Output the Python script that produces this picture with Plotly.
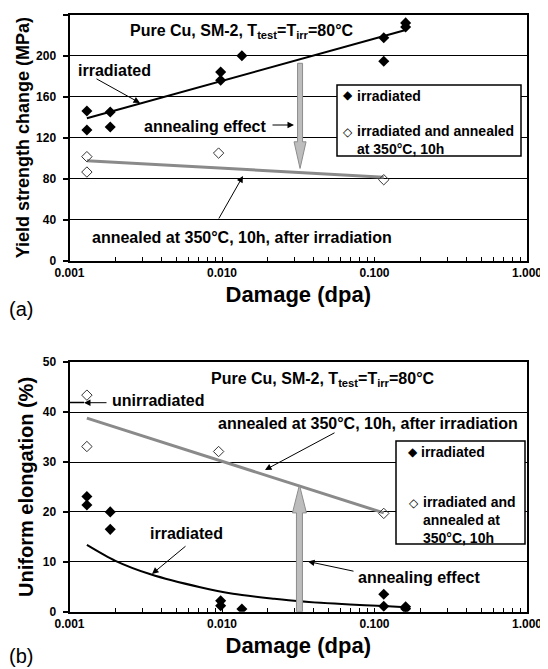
import plotly.graph_objects as go

# ---------------- data ----------------
# Panel (a): yield strength change (MPa)
irr_x_a = [0.0013, 0.0013, 0.00185, 0.00185, 0.0098, 0.0098, 0.0135, 0.115, 0.115, 0.16, 0.16]
irr_y_a = [146, 127.5, 145, 130.5, 184, 176, 200, 217.5, 194.5, 232, 228]
ann_x_a = [0.0013, 0.0013, 0.0095, 0.115]
ann_y_a = [101.5, 86.5, 105, 79]
irr_fit_x_a = [0.0013, 0.16]
irr_fit_y_a = [139, 225]
ann_fit_x_a = [0.0013, 0.115]
ann_fit_y_a = [97.5, 81.5]

# Panel (b): uniform elongation (%)
irr_x_b = [0.0013, 0.0013, 0.00185, 0.00185, 0.0098, 0.0098, 0.0135, 0.115, 0.115, 0.16, 0.16]
irr_y_b = [23.1, 21.4, 20.0, 16.5, 2.2, 1.2, 0.55, 3.5, 1.1, 1.0, 0.6]
ann_x_b = [0.0013, 0.0013, 0.0095, 0.115]
ann_y_b = [43.4, 33.1, 32.1, 19.7]
ann_fit_x_b = [0.0013, 0.115]
ann_fit_y_b = [38.8, 19.8]
irr_fit_x_b = [0.0013, 0.002, 0.0034, 0.0072, 0.0118, 0.022, 0.032, 0.069, 0.115, 0.16]
irr_fit_y_b = [13.4, 10.2, 7.5, 4.9, 3.6, 2.6, 2.1, 1.45, 1.15, 0.9]
unirr_x_b = [0.00112]
unirr_y_b = [41.9]

# annealing-effect arrows (x position, from value, to value)
arrow_a = (0.0325, 192.6, 90.0)
arrow_b = (0.0322, 0.0, 25.4)

x_tickvals = [0.001, 0.01, 0.1, 1.0]
x_ticktext = ["0.001", "0.010", "0.100", "1.000"]
x_minor = [m * d for d in (0.001, 0.01, 0.1) for m in range(2, 10)]

FONT = "Liberation Sans, Arial, sans-serif"
OFF = 8                      # page body margin of the browser
W, H = 548 - OFF, 669 - OFF  # figure size so the page is filled exactly


def PX(x):
    """reference page pixel -> paper fraction"""
    return (x - OFF) / W


def PY(y):
    return 1 - (y - OFF) / H


fig = go.Figure()

# ---------------- traces ----------------
def add(x, y, xa, ya, **kw):
    fig.add_trace(go.Scatter(x=x, y=y, xaxis=xa, yaxis=ya, showlegend=False,
                             hoverinfo="skip", **kw))

# panel a
add(ann_fit_x_a, ann_fit_y_a, "x", "y", mode="lines", line=dict(color="#8a8a8a", width=3))
add(irr_fit_x_a, irr_fit_y_a, "x", "y", mode="lines", line=dict(color="black", width=2))
add(irr_x_a, irr_y_a, "x", "y", mode="markers",
    marker=dict(symbol="diamond", size=8.5, color="black", line=dict(width=0)))
add(ann_x_a, ann_y_a, "x", "y", mode="markers",
    marker=dict(symbol="diamond-open", size=8, color="#333333", line=dict(width=1)))

# panel b
add(ann_fit_x_b, ann_fit_y_b, "x2", "y2", mode="lines", line=dict(color="#8a8a8a", width=3))
add(irr_fit_x_b, irr_fit_y_b, "x2", "y2", mode="lines",
    line=dict(color="black", width=2, shape="spline", smoothing=0.8))
add(irr_x_b, irr_y_b, "x2", "y2", mode="markers",
    marker=dict(symbol="diamond", size=8.5, color="black", line=dict(width=0)))
add(ann_x_b, ann_y_b, "x2", "y2", mode="markers",
    marker=dict(symbol="diamond-open", size=8, color="#333333", line=dict(width=1)))
add(unirr_x_b, unirr_y_b, "x2", "y2", mode="markers",
    marker=dict(symbol="line-ew", size=10, color="black", line=dict(width=1.5, color="black")))

# ---------------- axes ----------------
xdom = [PX(69.5), PX(527.0)]
ydom_a = [PY(260.7), PY(14.7)]
ydom_b = [PY(611.7), PY(362.2)]

tickfont = dict(family=FONT, size=12, color="black", weight="bold")


def xaxis(anchor, standoff):
    return dict(type="log", range=[-3, 0], domain=xdom, anchor=anchor, automargin=False,
                showline=True, mirror=True, linecolor="black", linewidth=2,
                ticks="inside", ticklen=4, tickcolor="black", tickwidth=1,
                tickmode="array", tickvals=x_tickvals, ticktext=x_ticktext,
                tickfont=tickfont, showgrid=False, zeroline=False,
                minor=dict(ticks="inside", ticklen=4, tickcolor="black", tickwidth=1,
                           tickmode="array", tickvals=x_minor, showgrid=False),
                title=dict(text="Damage (dpa)", standoff=standoff,
                           font=dict(family=FONT, size=22, color="black", weight="bold")))


def yaxis(anchor, dom, rng, dtick, title, tsize, standoff):
    return dict(range=rng, domain=dom, anchor=anchor, dtick=dtick, tick0=0, automargin=False,
                showline=True, mirror=True, linecolor="black", linewidth=2,
                ticks="outside", ticklen=5, tickcolor="black", tickwidth=1.5,
                tickfont=tickfont, ticklabelstandoff=4,
                showgrid=True, gridcolor="black", gridwidth=1.3, zeroline=False,
                title=dict(text=title, standoff=standoff,
                           font=dict(family=FONT, size=tsize, color="black", weight="bold")))


fig.update_layout(
    width=W, height=H, margin=dict(l=0, r=0, t=0, b=0, autoexpand=False),
    paper_bgcolor="white", plot_bgcolor="white",
    font=dict(family=FONT, color="black"),
    xaxis=xaxis("y", 8),
    yaxis=yaxis("x", ydom_a, [0, 240], 40, "Yield strength change (MPa)", 18, 2),
    xaxis2=xaxis("y2", 8),
    yaxis2=yaxis("x2", ydom_b, [0, 50], 10, "Uniform elongation (%)", 20, 4),
)

# ---------------- annotations ----------------
ann = []


def text(s, x, y, size=16, bold=True, xanchor="center"):
    ann.append(dict(text=s, x=PX(x), y=PY(y), xref="paper", yref="paper",
                    xanchor=xanchor, yanchor="middle", showarrow=False, align="left",
                    font=dict(family=FONT, size=size, color="black",
                              weight="bold" if bold else "normal")))


def arrow(tail, tip):
    ann.append(dict(text="", x=PX(tip[0]), y=PY(tip[1]), xref="paper", yref="paper",
                    ax=tail[0] - tip[0], ay=tail[1] - tip[1], showarrow=True,
                    arrowhead=2, arrowsize=1.3, arrowwidth=1, arrowcolor="black"))


title_txt = "Pure Cu, SM-2, T<sub>test</sub>=T<sub>irr</sub>=80°C"

# panel a
text(title_txt, 242, 31)
text("irradiated", 114, 70)
arrow((95, 78), (140, 103))
text("annealing effect", 205, 127)
arrow((271, 125), (294, 125))
text("annealed at 350°C, 10h, after irradiation", 241.5, 237)
arrow((218, 220), (243, 176))
text("(a)", 21, 309, size=20, bold=False)

# panel b
text(title_txt, 323, 379)
text("unirradiated", 158, 400)
arrow((108, 402.7), (84, 402.7))
text("annealed at 350°C, 10h, after irradiation", 368, 423)
arrow((336, 432), (265, 470))
text("irradiated", 186.5, 533)
arrow((187, 545), (152, 574))
text("annealing effect", 419, 577)
arrow((355, 571.5), (308, 561.5))
text("(b)", 21, 656, size=20, bold=False)

# manual legends
text("◆", 347.5, 95.5, size=12, bold=False)
text("irradiated", 355, 96, size=14, xanchor="left")
text("◇", 347.5, 132, size=12, bold=False)
text("irradiated and annealed<br>at 350°C, 10h", 355, 140, size=14, xanchor="left")

text("◆", 412.5, 451.5, size=12, bold=False)
text("irradiated", 419, 452, size=14, xanchor="left")
text("◇", 414, 503, size=12, bold=False)
text("irradiated and<br>annealed at<br>350°C, 10h", 420.5, 520, size=14, xanchor="left")

fig.update_layout(annotations=ann)

# ---------------- shapes: legend boxes and grey arrows ----------------
shapes = [
    dict(type="rect", xref="paper", yref="paper", x0=PX(337), x1=PX(521), y0=PY(85), y1=PY(156),
         fillcolor="white", line=dict(color="black", width=1.5), layer="above"),
    dict(type="rect", xref="paper", yref="paper", x0=PX(396), x1=PX(525), y0=PY(441), y1=PY(544),
         fillcolor="white", line=dict(color="black", width=1.5), layer="above"),
]


def grey_arrow(xr, yr, xpos, y_from, y_to, head_len, shaft_hw, head_hw):
    ybase = y_to - head_len if y_to > y_from else y_to + head_len
    path = (f"M {-shaft_hw},{y_from} L {shaft_hw},{y_from} L {shaft_hw},{ybase} "
            f"L {head_hw},{ybase} L 0,{y_to} L {-head_hw},{ybase} L {-shaft_hw},{ybase} Z")
    return dict(type="path", xref=xr, yref=yr, xsizemode="pixel", xanchor=xpos,
                path=path, fillcolor="#bdbdbd", line=dict(color="#8c8c8c", width=1),
                layer="above")


shapes.append(grey_arrow("x", "y", arrow_a[0], arrow_a[1], arrow_a[2], 26.0, 2.5, 6))
shapes.append(grey_arrow("x2", "y2", arrow_b[0], arrow_b[1], arrow_b[2], 5.6, 3, 7))

fig.update_layout(shapes=shapes)

fig.write_html("out.html")
